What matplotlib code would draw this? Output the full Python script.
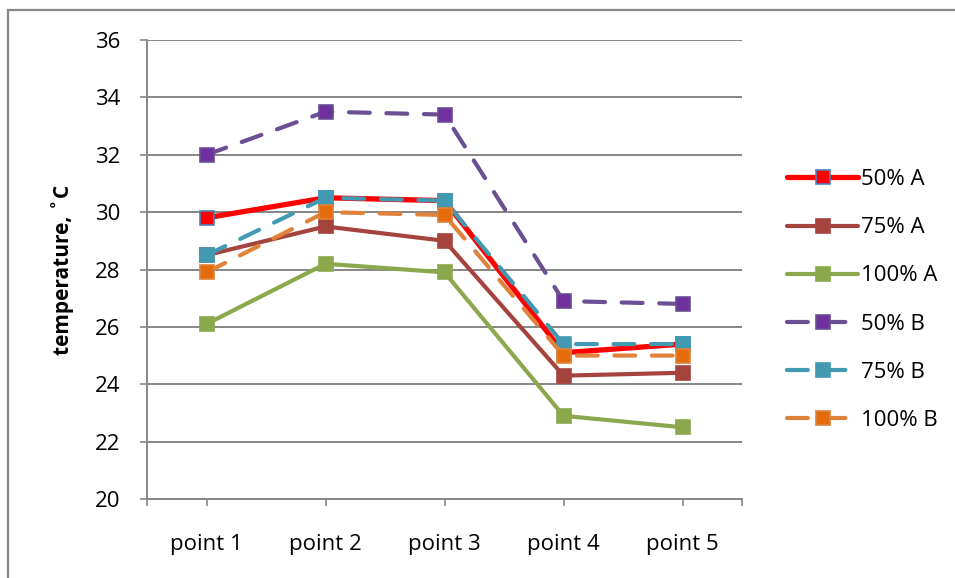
import matplotlib.pyplot as plt
from matplotlib.patches import Rectangle

# temperatures at the five measuring points
points = ["point 1", "point 2", "point 3", "point 4", "point 5"]
a50 = [29.8, 30.5, 30.4, 25.1, 25.4]
a75 = [28.5, 29.5, 29.0, 24.3, 24.4]
a100 = [26.1, 28.2, 27.9, 22.9, 22.5]
b50 = [32.0, 33.5, 33.4, 26.9, 26.8]
b75 = [28.5, 30.5, 30.4, 25.4, 25.4]
b100 = [27.9, 30.0, 29.9, 25.0, 25.0]
labels = ["50% A", "75% A", "100% A", "50% B", "75% B", "100% B"]

plt.rcParams['font.family'] = ['Open Sans', 'DejaVu Sans']

fig = plt.figure(figsize=(9.55, 5.78), dpi=100)
ax = fig.add_axes([147/955, 1 - 499/578, 595/955, 459/578])

# outer chart frame
fig.patches.append(Rectangle((8/955, -0.1), 1.2, 1 - 10/578 + 0.1, transform=fig.transFigure,
                             fill=False, edgecolor='#868686', linewidth=1.6))

x = range(len(points))
grey = '#868686'

# (values, line colour, marker face, marker edge, line width, dashed)
series = [
    (a50, '#FF0000', '#FF0000', '#4F81BD', 3.8, False),
    (a75, '#A5433F', '#A5433F', '#A5433F', 3.0, False),
    (a100, '#8BA84C', '#8BA84C', '#8BA84C', 3.0, False),
    (b50, '#6A4F92', '#7030A0', '#6A4F92', 3.0, True),
    (b75, '#4299B2', '#4299B2', '#4299B2', 3.0, True),
    (b100, '#E0823A', '#E46C0A', '#E0823A', 3.0, True),
]

for (vals, lc, mf, me, lw, dashed), lab in zip(series, labels):
    line, = ax.plot(x, vals, color=lc, lw=lw, marker='s', markersize=10,
                    markerfacecolor=mf, markeredgecolor=me, markeredgewidth=1.2,
                    label=lab, solid_capstyle='round', dash_capstyle='round')
    if dashed:
        line.set_dashes((5, 4))

ax.set_xlim(-0.5, 4.5)
ax.set_ylim(20, 36)
ax.set_yticks(range(20, 37, 2))
ax.set_xticks(list(x))
ax.set_xticks([-0.5, 4.5], minor=True)
ax.set_xticklabels(points, fontsize=16)
ax.tick_params(axis='y', labelsize=16, length=5, color=grey, width=1.2, pad=14)
ax.tick_params(axis='x', which='both', length=5, color=grey, width=1.2, pad=20.5)
ax.grid(axis='y', color=grey, lw=1.4)
ax.set_axisbelow(True)
for side in ['top', 'right']:
    ax.spines[side].set_visible(False)
for side in ['left', 'bottom']:
    ax.spines[side].set_color(grey)
    ax.spines[side].set_linewidth(1.4)

ax.set_ylabel('temperature, ˚C', fontsize=15, fontweight='bold', labelpad=15)

ax.legend(loc='center left', bbox_to_anchor=(767/955, 1 - 300/578), bbox_transform=fig.transFigure,
          frameon=False, fontsize=16, handlelength=3.2, labelspacing=1.22, handletextpad=0.12)

fig.savefig('out.png', dpi=100)
